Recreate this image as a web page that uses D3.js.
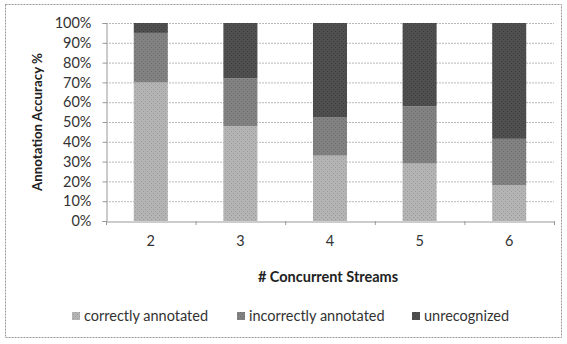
<!DOCTYPE html>
<html>
<head>
<meta charset="utf-8">
<script src="https://cdn.jsdelivr.net/npm/d3@7"></script>
<style>
  body { margin: 0; background: #fff; }
  svg { font-family: Lato, "Open Sans", sans-serif; }
</style>
</head>
<body>
<svg width="567" height="344"></svg>
<script>
const categories = ["2", "3", "4", "5", "6"];
const seriesNames = ["correctly annotated", "incorrectly annotated", "unrecognized"];
const correct = [70, 48, 33, 29, 18];
const incorrect = [25, 24, 19.5, 29, 23.5];
const unrecognized = [5, 28, 47.5, 42, 58.5];
const yTicks = [0, 10, 20, 30, 40, 50, 60, 70, 80, 90, 100];

const fills = ["#b4b4b4", "#828282", "#4f4f4f"];
const dots = ["#9a9a9a", "#6c6c6c", "#3e3e3e"];

const svg = d3.select("svg");
const width = +svg.attr("width");
const height = +svg.attr("height");
const m = {left: 106, right: 13, top: 23, bottom: 123};

// outer frame
svg.append("rect")
    .attr("x", 5.5).attr("y", 4.5)
    .attr("width", width - 11).attr("height", height - 11)
    .attr("fill", "none").attr("stroke", "#999")
    .attr("stroke-dasharray", "2,1");

// dotted patterns for bars
const defs = svg.append("defs");
fills.forEach((c, i) => {
    const p = defs.append("pattern")
        .attr("id", "pat" + i)
        .attr("width", 4).attr("height", 4)
        .attr("patternUnits", "userSpaceOnUse");
    p.append("rect").attr("width", 4).attr("height", 4).attr("fill", c);
    p.append("rect").attr("x", 1).attr("y", 1).attr("width", 1).attr("height", 1).attr("fill", dots[i]);
    p.append("rect").attr("x", 3).attr("y", 3).attr("width", 1).attr("height", 1).attr("fill", dots[i]);
});

const x = d3.scaleBand()
    .domain(categories)
    .range([m.left, width - m.right])
    .paddingInner(0.62).paddingOuter(0.31);

const y = d3.scaleLinear()
    .domain([0, 100])
    .range([height - m.bottom, m.top]);

// gridlines
svg.append("g")
    .selectAll("line")
    .data(yTicks.slice(1))
    .join("line")
    .attr("x1", m.left).attr("x2", width - m.right)
    .attr("y1", d => y(d) + 0.5).attr("y2", d => y(d) + 0.5)
    .attr("stroke", "#b8b8b8")
    .attr("stroke-dasharray", "2,1");

// stacked bars
const table = categories.map((c, i) => ({
    cat: c,
    "correctly annotated": correct[i],
    "incorrectly annotated": incorrect[i],
    "unrecognized": unrecognized[i]
}));
const stacked = d3.stack().keys(seriesNames)(table);

svg.append("g")
    .selectAll("g")
    .data(stacked)
    .join("g")
    .attr("fill", (d, i) => `url(#pat${i})`)
    .selectAll("rect")
    .data(d => d)
    .join("rect")
    .attr("x", d => x(d.data.cat))
    .attr("width", x.bandwidth())
    .attr("y", d => y(d[1]))
    .attr("height", d => y(d[0]) - y(d[1]));

// y axis
const yAxis = svg.append("g")
    .attr("transform", `translate(${m.left + 0.5},0)`)
    .call(d3.axisLeft(y).tickValues(yTicks).tickFormat(d => d + "%").tickSize(4))
    .call(g => g.selectAll("line, path").attr("stroke", "#999"));
yAxis.selectAll("text")
    .attr("x", -15)
    .attr("font-size", 14.5)
    .attr("font-family", "Lato, sans-serif")
    .attr("fill", "#333");

// x axis
const xAxis = svg.append("g")
    .attr("transform", `translate(0,${y(0) + 0.5})`)
    .call(d3.axisBottom(x).tickSize(0).tickPadding(14))
    .call(g => g.select("path").attr("stroke", "#999"));
xAxis.selectAll("text")
    .attr("font-size", 14.5)
    .attr("font-family", "Lato, sans-serif")
    .attr("fill", "#333");

// x category separators
const step = x.step();
svg.append("g")
    .selectAll("line")
    .data(d3.range(categories.length + 1))
    .join("line")
    .attr("x1", i => m.left + i * step + 0.5)
    .attr("x2", i => m.left + i * step + 0.5)
    .attr("y1", y(0)).attr("y2", y(0) + 4)
    .attr("stroke", "#999");

// axis titles
svg.append("text")
    .attr("transform", `translate(42,${(y(0) + y(100)) / 2}) rotate(-90)`)
    .attr("text-anchor", "middle")
    .attr("font-size", 13.3)
    .attr("font-weight", "bold")
    .attr("fill", "#222")
    .text("Annotation Accuracy %");

svg.append("text")
    .attr("x", 328)
    .attr("y", 282)
    .attr("text-anchor", "middle")
    .attr("font-size", 14.5)
    .attr("font-weight", "bold")
    .attr("fill", "#222")
    .text("# Concurrent Streams");

// legend
const legendX = [72, 237, 412];
const legend = svg.append("g")
    .selectAll("g")
    .data(seriesNames)
    .join("g")
    .attr("transform", (d, i) => `translate(${legendX[i]},321)`);
legend.append("rect")
    .attr("x", 0).attr("y", -9)
    .attr("width", 8).attr("height", 8)
    .attr("fill", (d, i) => `url(#pat${i})`);
legend.append("text")
    .attr("x", 12).attr("y", 0)
    .attr("font-size", 14.5)
    .attr("fill", "#333")
    .text(d => d);
</script>
</body>
</html>
